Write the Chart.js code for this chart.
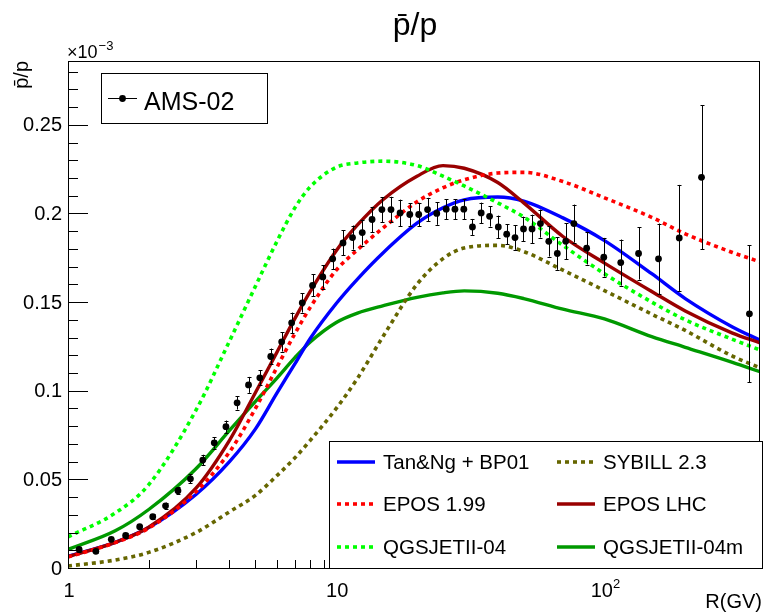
<!DOCTYPE html>
<html><head><meta charset="utf-8">
<script src="https://cdn.jsdelivr.net/npm/chart.js@4/dist/chart.umd.min.js"></script>
<style>html,body{margin:0;padding:0;background:#fff;}#wrap{width:764px;height:614px;}</style>
</head><body><div id="wrap"><canvas id="c" width="764" height="614"></canvas></div>
<script>
// ---- data (values in units of 10^-3) ----
const rigidity = [1,1.5,2,3,4,5,6,7,8,10,12,15,20,25,30,40,50,70,100,150,200,300,380];
const tanNgBP01   = [0.0066,0.0145,0.0228,0.0415,0.060,0.0785,0.0985,0.115,0.1295,0.1492,0.163,0.178,0.1945,0.2032,0.2077,0.2093,0.207,0.1975,0.1847,0.166,0.152,0.136,0.1285];
const epos199     = [0.0062,0.0143,0.0225,0.043,0.0655,0.090,0.113,0.132,0.147,0.168,0.1795,0.192,0.2066,0.2145,0.219,0.2228,0.2232,0.218,0.2088,0.1978,0.1885,0.178,0.1727];
const qgsjet04    = [0.0176,0.031,0.047,0.089,0.128,0.159,0.184,0.203,0.215,0.226,0.2285,0.2295,0.227,0.221,0.2155,0.206,0.198,0.182,0.166,0.150,0.140,0.129,0.123];
const sybill23    = [0.0011,0.0045,0.0088,0.020,0.0317,0.041,0.052,0.062,0.072,0.090,0.107,0.131,0.160,0.1745,0.1805,0.182,0.1785,0.168,0.1565,0.1432,0.134,0.1195,0.113];
const eposLHC     = [0.0064,0.0145,0.023,0.045,0.072,0.099,0.1215,0.1405,0.156,0.179,0.1935,0.208,0.221,0.227,0.2255,0.2175,0.206,0.187,0.172,0.156,0.145,0.1325,0.127];
const qgsjet04m   = [0.0105,0.021,0.033,0.056,0.0776,0.094,0.107,0.1185,0.1275,0.1385,0.1438,0.148,0.1527,0.1552,0.1563,0.155,0.152,0.146,0.1405,0.1305,0.1245,0.116,0.1107];

const amsR = [1.10,1.27,1.45,1.64,1.85,2.07,2.31,2.57,2.86,3.18,3.51,3.88,4.27,4.71,5.19,5.70,6.26,6.82,7.47,8.16,8.91,9.70,10.6,11.5,12.5,13.6,14.8,16.0,17.3,18.8,20.3,21.9,23.7,25.7,27.7,29.9,32.2,34.7,37.3,40.2,43.2,46.4,49.9,53.7,57.7,62.0,66.7,71.7,76.9,85.8,99.4,115,134,159,190,230,347];
const amsRatio = [0.0105,0.0094,0.0162,0.0184,0.0233,0.0289,0.0351,0.0436,0.0503,0.0609,0.0706,0.0797,0.0932,0.1033,0.1073,0.1193,0.1276,0.1383,0.1496,0.1594,0.1642,0.1744,0.1834,0.1864,0.1892,0.1966,0.2022,0.2022,0.2003,0.1994,0.1994,0.2022,0.2000,0.2024,0.2024,0.2024,0.1924,0.2003,0.1984,0.1924,0.1883,0.1864,0.1913,0.1913,0.1943,0.1843,0.1774,0.1843,0.1943,0.1804,0.1753,0.1723,0.1774,0.1744,0.1862,0.2204,0.1434];
const amsErr = [0.0015,0.0012,0.0012,0.0012,0.0012,0.0015,0.0018,0.002,0.0025,0.003,0.0033,0.0035,0.0038,0.0045,0.0042,0.0045,0.0055,0.0058,0.0055,0.0062,0.0066,0.0058,0.007,0.0068,0.0073,0.0071,0.007,0.0072,0.0075,0.0064,0.0066,0.0066,0.0064,0.0056,0.0056,0.0056,0.0045,0.0058,0.0058,0.0064,0.0056,0.0069,0.0069,0.008,0.0079,0.0086,0.0092,0.0101,0.0107,0.0092,0.0109,0.013,0.0147,0.0199,0.0299,0.0406,0.0387];

const yTickValues = [0,0.05,0.1,0.15,0.2,0.25];
const yTickLabels = ['0','0.05','0.1','0.15','0.2','0.25'];
const xTickValues = [1,10,100];
const xTickLabels = [['1',''],['10',''],['10','2']];
const seriesNames = ['Tan&Ng + BP01','EPOS 1.99','QGSJETII-04','SYBILL 2.3','EPOS LHC','QGSJETII-04m'];

const FONT = '"Liberation Sans", Arial, sans-serif';
const pts = arr => rigidity.map((r,i)=>({x:r,y:arr[i]}));
const curve = (label, arr, color, dashed) => ({
  type:'line', label, data: pts(arr), borderColor: color, backgroundColor: color,
  borderWidth: dashed ? 3.6 : 3.4, borderDash: dashed ? [4,4] : [], pointRadius:0,
  cubicInterpolationMode:'monotone', fill:false
});

const datasets = [
  {type:'scatter', label:'AMS-02', data: amsR.map((r,i)=>({x:r,y:amsRatio[i]})),
   pointRadius:3.4, pointBackgroundColor:'#000', pointBorderWidth:0, showLine:false},
  curve(seriesNames[2], qgsjet04, '#00ff00', true),
  curve(seriesNames[1], epos199, '#ff0000', true),
  curve(seriesNames[4], eposLHC, '#990000', false),
  curve(seriesNames[0], tanNgBP01, '#0000ff', false),
  curve(seriesNames[3], sybill23, '#666600', true),
  curve(seriesNames[5], qgsjet04m, '#009900', false)
];

const rootStyle = {
  id:'rootStyle',
  beforeDraw(chart){
    const ctx = chart.ctx; ctx.save(); ctx.fillStyle='#fff'; ctx.fillRect(0,0,chart.width,chart.height); ctx.restore();
  },
  afterDatasetsDraw(chart){
    const ctx = chart.ctx, xs = chart.scales.x, ys = chart.scales.y, a = chart.chartArea;
    ctx.save();
    ctx.beginPath(); ctx.rect(a.left,a.top,a.right-a.left,a.bottom-a.top); ctx.clip();
    ctx.strokeStyle='#000'; ctx.lineWidth=1;
    amsR.forEach((r,i)=>{
      const x = Math.round(xs.getPixelForValue(r))+0.5;
      const y1 = ys.getPixelForValue(amsRatio[i]-amsErr[i]);
      const y2 = ys.getPixelForValue(amsRatio[i]+amsErr[i]);
      ctx.beginPath(); ctx.moveTo(x,y1); ctx.lineTo(x,y2);
      ctx.moveTo(x-2,Math.round(y1)+0.5); ctx.lineTo(x+2,Math.round(y1)+0.5);
      ctx.moveTo(x-2,Math.round(y2)+0.5); ctx.lineTo(x+2,Math.round(y2)+0.5);
      ctx.stroke();
    });
    ctx.restore();
  },
  afterDraw(chart){
    const ctx = chart.ctx, xs = chart.scales.x, ys = chart.scales.y, a = chart.chartArea;
    ctx.save();
    ctx.strokeStyle='#000'; ctx.lineWidth=1;
    // ticks y
    for(let k=0;k<=28;k++){
      const v = k/100; const y = Math.round(ys.getPixelForValue(v))+0.5;
      const len = (k%5===0)?20:10;
      ctx.beginPath(); ctx.moveTo(a.left,y); ctx.lineTo(a.left+len,y); ctx.stroke();
    }
    // ticks x
    [1,10,100].forEach(dec=>{
      for(let m=1;m<=9;m++){
        const v=dec*m; if(v>380) return;
        const x = Math.round(xs.getPixelForValue(v))+0.5;
        const len = m===1?16:8;
        ctx.beginPath(); ctx.moveTo(x,a.bottom); ctx.lineTo(x,a.bottom-len); ctx.stroke();
      }
    });
    // frame
    ctx.strokeRect(Math.round(a.left)+0.5, Math.round(a.top)+0.5, Math.round(a.right-a.left)-1, Math.round(a.bottom-a.top));
    // y tick labels
    ctx.fillStyle='#000';
    ctx.font='20px '+FONT; ctx.textAlign='right'; ctx.textBaseline='middle';
    yTickValues.forEach((v,i)=>{ ctx.fillText(yTickLabels[i], a.left-6, ys.getPixelForValue(v)+1); });
    // x tick labels
    ctx.textBaseline='alphabetic';
    xTickValues.forEach((v,i)=>{
      const x = xs.getPixelForValue(v); const [base,sup] = xTickLabels[i];
      ctx.font='20px '+FONT;
      const wb = ctx.measureText(base).width;
      ctx.font='13px '+FONT;
      const ws = sup ? ctx.measureText(sup).width : 0;
      const x0 = x - (wb+ws)/2 + 1;
      ctx.textAlign='left'; ctx.font='20px '+FONT; ctx.fillText(base, x0, 597);
      if(sup){ ctx.font='13px '+FONT; ctx.fillText(sup, x0+wb, 588); }
    });
    // axis titles
    ctx.font='20px '+FONT; ctx.textAlign='right'; ctx.fillText('R(GV)', 762, 608);
    ctx.save(); ctx.translate(28, 61); ctx.rotate(-Math.PI/2);
    ctx.textAlign='right'; ctx.fillText('p\u0304/p', 0, 0); ctx.restore();
    // exponent
    ctx.textAlign='left'; ctx.font='18px '+FONT; ctx.fillText('\u00d710', 67, 58);
    const w10 = ctx.measureText('\u00d710').width;
    ctx.font='13px '+FONT; ctx.fillText('\u22123', 67+w10+1, 50);
    // title
    ctx.font='32px '+FONT; ctx.textAlign='center'; ctx.fillText('p\u0304/p', 415, 35);
    // legend AMS
    ctx.fillStyle='#fff'; ctx.fillRect(101,73,166,50); ctx.strokeRect(101.5,73.5,166,50);
    ctx.beginPath(); ctx.moveTo(108,98.5); ctx.lineTo(137,98.5); ctx.stroke();
    ctx.fillStyle='#000'; ctx.beginPath(); ctx.arc(122.5,98.5,3.4,0,Math.PI*2); ctx.fill();
    ctx.font='25px '+FONT; ctx.textAlign='left'; ctx.fillText('AMS-02', 144, 110);
    // legend models
    ctx.fillStyle='#fff'; ctx.fillRect(329,441,434,127); ctx.strokeRect(329.5,441.5,433,127);
    const byLabel = {}; chart.data.datasets.forEach(d=>byLabel[d.label]=d);
    const rows=[462,504,547];
    seriesNames.forEach((name,i)=>{
      const d = byLabel[name]; const col = Math.floor(i/3), row = i%3;
      const lx0 = col===0?337:557, lx1 = col===0?375:595, tx = col===0?383:603;
      const y = rows[row];
      ctx.save(); ctx.strokeStyle=d.borderColor; ctx.lineWidth=d.borderWidth; ctx.setLineDash(d.borderDash);
      ctx.beginPath(); ctx.moveTo(lx0,y); ctx.lineTo(lx1,y); ctx.stroke(); ctx.restore();
      ctx.fillStyle='#000'; ctx.font='20.5px '+FONT; ctx.textAlign='left'; ctx.textBaseline='middle';
      ctx.fillText(name, tx, y+1);
    });
    ctx.restore();
  }
};

new Chart(document.getElementById('c'), {
  data:{datasets},
  options:{
    responsive:false, animation:false, devicePixelRatio:1,
    layout:{padding:{top:61,right:1,left:0,bottom:0}},
    plugins:{legend:{display:false}, tooltip:{enabled:false}, title:{display:false}},
    scales:{
      x:{type:'logarithmic', min:1, max:380, grid:{display:false}, border:{display:false},
         ticks:{display:false}, afterFit(s){ s.height=46; }},
      y:{type:'linear', min:0, max:0.286, grid:{display:false}, border:{display:false},
         ticks:{display:false}, afterFit(s){ s.width=68; }}
    }
  },
  plugins:[rootStyle]
});
</script></body></html>
